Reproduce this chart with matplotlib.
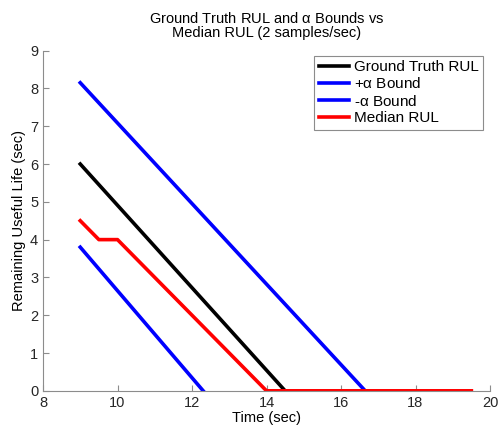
import matplotlib
matplotlib.use("Agg")
import matplotlib.pyplot as plt

plt.rcParams['font.family'] = ['Liberation Sans', 'DejaVu Sans']
plt.rcParams['mathtext.fontset'] = 'custom'
plt.rcParams['mathtext.rm'] = 'Liberation Sans'
plt.rcParams['mathtext.it'] = 'Liberation Sans'

# data
truth_t = [9, 14.5]
truth_rul = [6, 0]
upper_t = [9, 16.65]
upper_rul = [8.15, 0]
lower_t = [9, 12.3]
lower_rul = [3.8, 0]
median_t = [9, 9.5, 10, 14, 19.5]
median_rul = [4.5, 4.0, 4.0, 0, 0]

fig = plt.figure(figsize=(5, 4.29), dpi=100)
ax = fig.add_axes([0.086, 0.089, 0.894, 0.793])

ax.plot(truth_t, truth_rul, color='black', lw=2.6, label='Ground Truth RUL')
ax.plot(upper_t, upper_rul, color='#0000ff', lw=2.6, label=r'+$\alpha$ Bound')
ax.plot(lower_t, lower_rul, color='#0000ff', lw=2.6, label=r'-$\alpha$ Bound')
ax.plot(median_t, median_rul, color='#ff0000', lw=2.6, label='Median RUL')

ax.set_xlim(8, 20)
ax.set_ylim(0, 9)
ax.set_xticks(range(8, 21, 2))
ax.set_yticks(range(0, 10))

for s in ['top', 'right']:
    ax.spines[s].set_visible(False)
for s in ['left', 'bottom']:
    ax.spines[s].set_color('#8c8c8c')
ax.tick_params(direction='in', color='#8c8c8c', length=4, labelsize=10.5, labelcolor='#262626')

ax.set_xlabel('Time (sec)', fontsize=10.5, labelpad=1)
ax.set_ylabel('Remaining Useful Life (sec)', fontsize=10.5, labelpad=3)
ax.set_title('Ground Truth RUL and $\\alpha$ Bounds vs\nMedian RUL (2 samples/sec)', fontsize=10.5, linespacing=1.0, pad=10)

leg = ax.legend(loc='upper right', fontsize=11, handlelength=2.0, handletextpad=0.3,
                labelspacing=0.15, borderpad=0.3, fancybox=False, framealpha=1,
                bbox_to_anchor=(1.002, 1.008))
leg.get_frame().set_edgecolor('#8c8c8c')
leg.get_frame().set_linewidth(0.8)

fig.savefig('out.png', dpi=100)
